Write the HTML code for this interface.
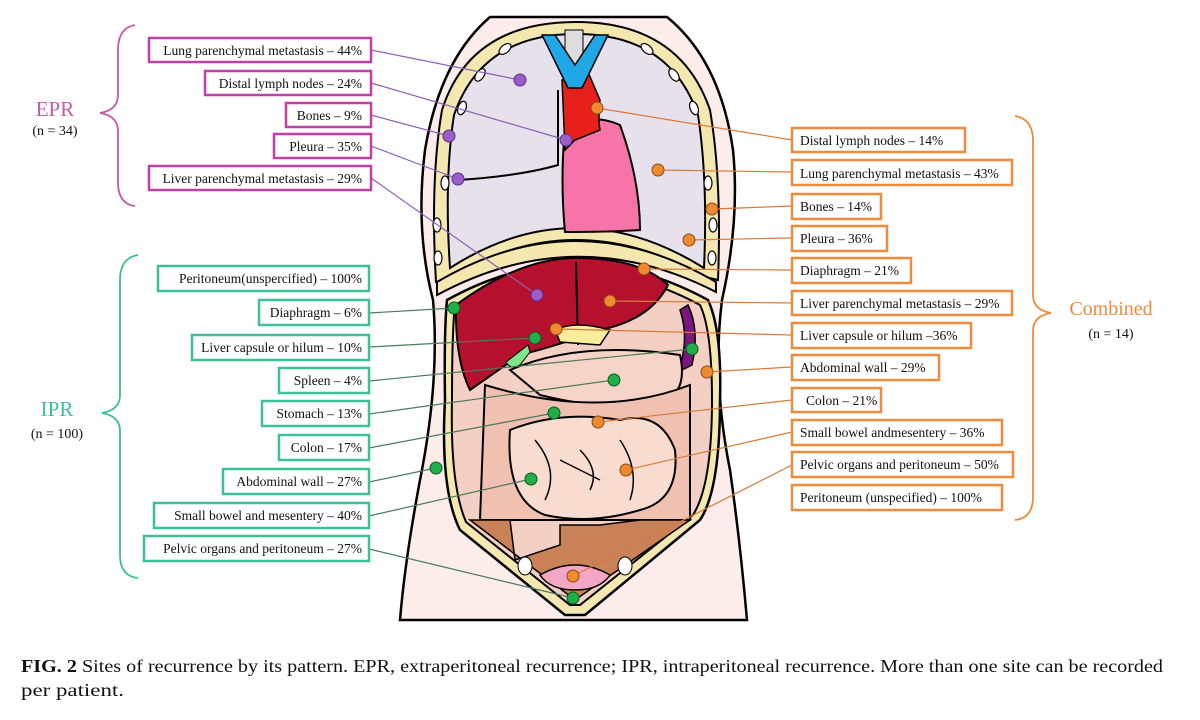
<!DOCTYPE html>
<html><head><meta charset="utf-8"><style>
html,body{margin:0;padding:0;background:#fff;}
svg{display:block;}
text{font-family:"Liberation Serif",serif;}
</style></head><body>
<svg width="1200" height="720" viewBox="0 0 1200 720" xmlns="http://www.w3.org/2000/svg">
<!-- skin -->
<path d="M490,17 Q440,60 425,150 Q415,230 433,300 Q440,380 420,480 Q405,560 400,620 L747,620 Q740,540 730,470 Q712,380 722,300 Q740,220 733,150 Q720,60 667,17 Z" fill="#fcecea" stroke="#000" stroke-width="2.5"/>
<!-- thorax band -->
<path d="M576,22 Q680,22 710,110 Q722,180 718,280 L705,277 Q640,240 576,240 Q510,240 447,280 L436,282 Q430,180 442,110 Q470,22 576,22 Z" fill="#f5e7b0" stroke="#000" stroke-width="2"/>
<!-- lungs -->
<path d="M576,34 Q670,34 698,115 Q708,180 704,268 Q640,228 576,228 Q512,228 450,268 Q444,180 454,115 Q482,34 576,34 Z" fill="#e7e1ec" stroke="#000" stroke-width="2"/>
<!-- rib ovals -->
<g fill="#fff" stroke="#000" stroke-width="1.2">
<ellipse cx="505" cy="49" rx="4" ry="7" transform="rotate(50 505 49)"/><ellipse cx="480" cy="75" rx="4" ry="7" transform="rotate(35 480 75)"/>
<ellipse cx="462" cy="108" rx="4" ry="7" transform="rotate(20 462 108)"/><ellipse cx="445" cy="183" rx="4" ry="7"/><ellipse cx="437" cy="225" rx="4" ry="7"/><ellipse cx="438" cy="258" rx="4" ry="7"/>
<ellipse cx="647" cy="49" rx="4" ry="7" transform="rotate(-50 647 49)"/><ellipse cx="674" cy="75" rx="4" ry="7" transform="rotate(-35 674 75)"/>
<ellipse cx="694" cy="108" rx="4" ry="7" transform="rotate(-20 694 108)"/><ellipse cx="708" cy="183" rx="4" ry="7"/><ellipse cx="713" cy="225" rx="4" ry="7"/><ellipse cx="712" cy="258" rx="4" ry="7"/>
</g>
<!-- lung fissure lines -->
<path d="M558,90 L558,165 Q520,176 458,180" fill="none" stroke="#000" stroke-width="2"/>
<!-- heart -->
<path d="M565,128 Q590,112 620,125 Q640,180 640,230 Q610,232 565,232 Q560,180 565,128 Z" fill="#f774a8" stroke="#000" stroke-width="2"/>
<!-- aorta -->
<path d="M562,80 L588,72 L600,100 Q598,120 600,130 L575,140 L565,150 Z" fill="#e8201c" stroke="#000" stroke-width="1.5"/>
<!-- trachea & vessels -->
<rect x="565" y="30" width="18" height="45" fill="#ddd" stroke="#000"/>
<path d="M542,35 L555,35 L575,65 L595,35 L608,35 L582,88 L568,88 Z" fill="#1fa7e6" stroke="#000" stroke-width="1.5"/>
<!-- diaphragm band -->
<path d="M437,282 Q576,200 716,282 L716,292 Q576,220 437,295 Z" fill="#f5e7b0" stroke="#000" stroke-width="2"/>
<!-- abdomen band -->
<path d="M447,300 Q576,228 708,300 Q722,330 720,400 Q720,490 700,520 L585,615 L565,615 L460,530 Q440,490 445,400 Q444,330 447,300 Z" fill="#f5e7b0" stroke="#000" stroke-width="2.5"/>
<path d="M455,305 Q576,238 700,305 Q712,330 712,400 Q712,485 693,515 L580,605 L570,605 L466,522 Q450,485 452,400 Q452,330 455,305 Z" fill="#f4cfc4" stroke="#000" stroke-width="2"/>
<!-- liver -->
<path d="M456,305 Q520,258 576,258 Q640,258 668,285 Q650,320 600,330 Q560,345 520,355 L470,390 Q455,360 456,305 Z" fill="#b5102e" stroke="#000" stroke-width="2"/>
<path d="M576,262 L578,345" stroke="#000" stroke-width="2" fill="none"/>
<path d="M555,330 Q575,320 610,330 L600,345 L560,342 Z" fill="#f8ed9a" stroke="#000" stroke-width="1.5"/>
<!-- gallbladder -->
<path d="M528,345 L506,362 Q510,370 520,365 L530,352 Z" fill="#7ee88c" stroke="#000"/>
<!-- spleen -->
<path d="M688,305 Q700,330 692,365 L678,372 Q690,340 680,310 Z" fill="#7d1580" stroke="#000" stroke-width="1.5"/>
<!-- stomach -->
<path d="M510,370 Q580,340 680,355 Q690,400 650,405 Q600,410 540,395 Z" fill="#f6d4c8" stroke="#000" stroke-width="2"/>
<!-- colon -->
<path d="M485,385 Q600,420 690,385 L690,520 L480,520 Z" fill="#f0c0b0" stroke="#000" stroke-width="2"/>
<!-- small bowel -->
<path d="M510,430 Q560,410 620,420 Q660,410 675,450 Q680,500 640,510 Q590,525 545,515 Q505,500 510,430 Z" fill="#f8dcd0" stroke="#000" stroke-width="2"/>
<path d="M535,440 Q560,470 545,500 M580,450 Q600,470 590,490 M620,440 Q640,470 630,500 M560,460 L600,480" stroke="#000" stroke-width="1.5" fill="none"/>
<!-- pelvis -->
<path d="M470,520 L510,520 L515,560 L560,545 L560,525 L600,525 L640,520 L690,520 L575,600 Z" fill="#c98158" stroke="#000" stroke-width="1.5"/>
<path d="M540,575 Q575,555 610,575 Q600,590 575,590 Q550,590 540,575 Z" fill="#f4a7c4" stroke="#000" stroke-width="1.5"/>
<ellipse cx="525" cy="566" rx="7" ry="9" fill="#fff" stroke="#000"/><ellipse cx="625" cy="566" rx="7" ry="9" fill="#fff" stroke="#000"/>

<!-- connector lines -->
<g stroke="#8a60b8" stroke-width="1.2">
<line x1="371" y1="50" x2="520" y2="80"/><line x1="371" y1="83" x2="566" y2="140"/><line x1="371" y1="115" x2="449" y2="136"/><line x1="371" y1="146" x2="458" y2="179"/><line x1="371" y1="178" x2="537" y2="295"/>
</g>
<g stroke="#4a7a5c" stroke-width="1.2">
<line x1="369" y1="313" x2="454" y2="308"/><line x1="369" y1="347" x2="535" y2="338"/><line x1="369" y1="381" x2="692" y2="349"/><line x1="369" y1="414" x2="614" y2="380"/><line x1="369" y1="448" x2="554" y2="413"/><line x1="369" y1="482" x2="436" y2="468"/><line x1="369" y1="516" x2="531" y2="479"/><line x1="369" y1="549" x2="573" y2="598"/>
</g>
<g stroke="#d87a3a" stroke-width="1.2">
<line x1="597" y1="108" x2="792" y2="140"/><line x1="658" y1="170" x2="792" y2="172"/><line x1="712" y1="209" x2="792" y2="206"/><line x1="689" y1="240" x2="792" y2="238"/><line x1="644" y1="269" x2="792" y2="270"/><line x1="610" y1="301" x2="792" y2="303"/><line x1="556" y1="329" x2="792" y2="335"/><line x1="707" y1="372" x2="792" y2="367"/><line x1="598" y1="422" x2="792" y2="400"/><line x1="626" y1="470" x2="792" y2="432"/><line x1="573" y1="576" x2="792" y2="465"/>
</g>
<!-- dots -->
<g fill="#9b5ccc" stroke="#5a3080" stroke-width="1">
<circle cx="520" cy="80" r="6"/><circle cx="566" cy="140" r="6"/><circle cx="449" cy="136" r="6"/><circle cx="458" cy="179" r="6"/><circle cx="537" cy="295" r="6"/>
</g>
<g fill="#f08a30" stroke="#8a4a10" stroke-width="1">
<circle cx="597" cy="108" r="6"/><circle cx="658" cy="170" r="6"/><circle cx="712" cy="209" r="6"/><circle cx="689" cy="240" r="6"/><circle cx="644" cy="269" r="6"/><circle cx="610" cy="301" r="6"/><circle cx="556" cy="329" r="6"/><circle cx="707" cy="372" r="6"/><circle cx="598" cy="422" r="6"/><circle cx="626" cy="470" r="6"/><circle cx="573" cy="576" r="6"/>
</g>
<g fill="#1fae48" stroke="#0a5a20" stroke-width="1">
<circle cx="454" cy="308" r="6"/><circle cx="535" cy="338" r="6"/><circle cx="692" cy="349" r="6"/><circle cx="614" cy="380" r="6"/><circle cx="554" cy="413" r="6"/><circle cx="436" cy="468" r="6"/><circle cx="531" cy="479" r="6"/><circle cx="573" cy="598" r="6"/>
</g>

<!-- EPR boxes -->
<g fill="#fff" stroke="#c23fa6" stroke-width="2.5">
<rect x="149" y="38" width="222" height="24"/><rect x="205" y="71" width="166" height="24"/><rect x="286" y="103" width="85" height="24"/><rect x="274" y="134" width="97" height="24"/><rect x="149" y="166" width="222" height="24"/>
</g>
<g font-size="13.5" text-anchor="end" fill="#111">
<text x="362" y="55">Lung parenchymal metastasis – 44%</text>
<text x="362" y="88">Distal lymph nodes – 24%</text>
<text x="362" y="120">Bones – 9%</text>
<text x="362" y="151">Pleura – 35%</text>
<text x="362" y="183">Liver parenchymal metastasis – 29%</text>
</g>
<!-- IPR boxes -->
<g fill="#fff" stroke="#3dbf98" stroke-width="2.5">
<rect x="158" y="266" width="211" height="25"/><rect x="259" y="300" width="110" height="25"/><rect x="192" y="335" width="177" height="25"/><rect x="279" y="368" width="90" height="25"/><rect x="262" y="401" width="107" height="25"/><rect x="279" y="435" width="90" height="25"/><rect x="223" y="469" width="146" height="25"/><rect x="154" y="503" width="215" height="25"/><rect x="144" y="536" width="225" height="25"/>
</g>
<g font-size="13.5" text-anchor="end" fill="#111">
<text x="362" y="283">Peritoneum(unspercified) – 100%</text>
<text x="362" y="317">Diaphragm – 6%</text>
<text x="362" y="352">Liver capsule or hilum – 10%</text>
<text x="362" y="385">Spleen – 4%</text>
<text x="362" y="418">Stomach – 13%</text>
<text x="362" y="452">Colon – 17%</text>
<text x="362" y="486">Abdominal wall – 27%</text>
<text x="362" y="520">Small bowel and mesentery – 40%</text>
<text x="362" y="553">Pelvic organs and peritoneum – 27%</text>
</g>
<!-- Combined boxes -->
<g fill="#fff" stroke="#f08a3c" stroke-width="2.5">
<rect x="792" y="128" width="173" height="24"/><rect x="792" y="160" width="220" height="25"/><rect x="792" y="194" width="89" height="25"/><rect x="792" y="226" width="95" height="25"/><rect x="792" y="258" width="119" height="25"/><rect x="792" y="291" width="220" height="24"/><rect x="792" y="323" width="179" height="25"/><rect x="792" y="355" width="147" height="25"/><rect x="792" y="388" width="89" height="24"/><rect x="792" y="420" width="210" height="25"/><rect x="792" y="452" width="221" height="25"/><rect x="792" y="485" width="210" height="25"/>
</g>
<g font-size="13.5" fill="#111">
<text x="800" y="145">Distal lymph nodes – 14%</text>
<text x="800" y="178">Lung parenchymal metastasis – 43%</text>
<text x="800" y="211">Bones – 14%</text>
<text x="800" y="243">Pleura – 36%</text>
<text x="800" y="275">Diaphragm – 21%</text>
<text x="800" y="308">Liver parenchymal metastasis – 29%</text>
<text x="800" y="340">Liver capsule or hilum –36%</text>
<text x="800" y="372">Abdominal wall – 29%</text>
<text x="806" y="405">Colon – 21%</text>
<text x="800" y="437">Small bowel andmesentery – 36%</text>
<text x="800" y="469">Pelvic organs and peritoneum – 50%</text>
<text x="800" y="502">Peritoneum (unspecified) – 100%</text>
</g>
<!-- braces -->
<path d="M135,25 Q118,28 118,50 L118,95 Q118,110 100,113 Q118,116 118,131 L118,182 Q118,204 135,206" fill="none" stroke="#c45aa8" stroke-width="1.8"/>
<path d="M138,255 Q120,258 120,280 L120,395 Q120,410 102,413 Q120,416 120,431 L120,555 Q120,576 138,578" fill="none" stroke="#3dbf98" stroke-width="1.8"/>
<path d="M1015,116 Q1033,119 1033,141 L1033,295 Q1033,310 1051,313 Q1033,316 1033,331 L1033,497 Q1033,518 1015,520" fill="none" stroke="#f08a3c" stroke-width="1.8"/>
<text x="55" y="116" font-size="21" fill="#c45aa8" text-anchor="middle">EPR</text>
<text x="55" y="135" font-size="14" fill="#111" text-anchor="middle">(n = 34)</text>
<text x="57" y="416" font-size="21" fill="#3dbf98" text-anchor="middle">IPR</text>
<text x="57" y="438" font-size="14" fill="#111" text-anchor="middle">(n = 100)</text>
<text x="1111" y="315" font-size="20" fill="#f08a3c" text-anchor="middle">Combined</text>
<text x="1111" y="338" font-size="14" fill="#111" text-anchor="middle">(n = 14)</text>
<!-- caption -->
<text x="21" y="672" font-size="18" fill="#111" textLength="1142" lengthAdjust="spacingAndGlyphs"><tspan font-weight="bold">FIG. 2</tspan>  Sites of recurrence by its pattern. EPR, extraperitoneal recurrence; IPR, intraperitoneal recurrence. More than one site can be recorded</text>
<text x="21" y="696" font-size="18" fill="#111" textLength="103" lengthAdjust="spacingAndGlyphs">per patient.</text>
</svg>
</body></html>
